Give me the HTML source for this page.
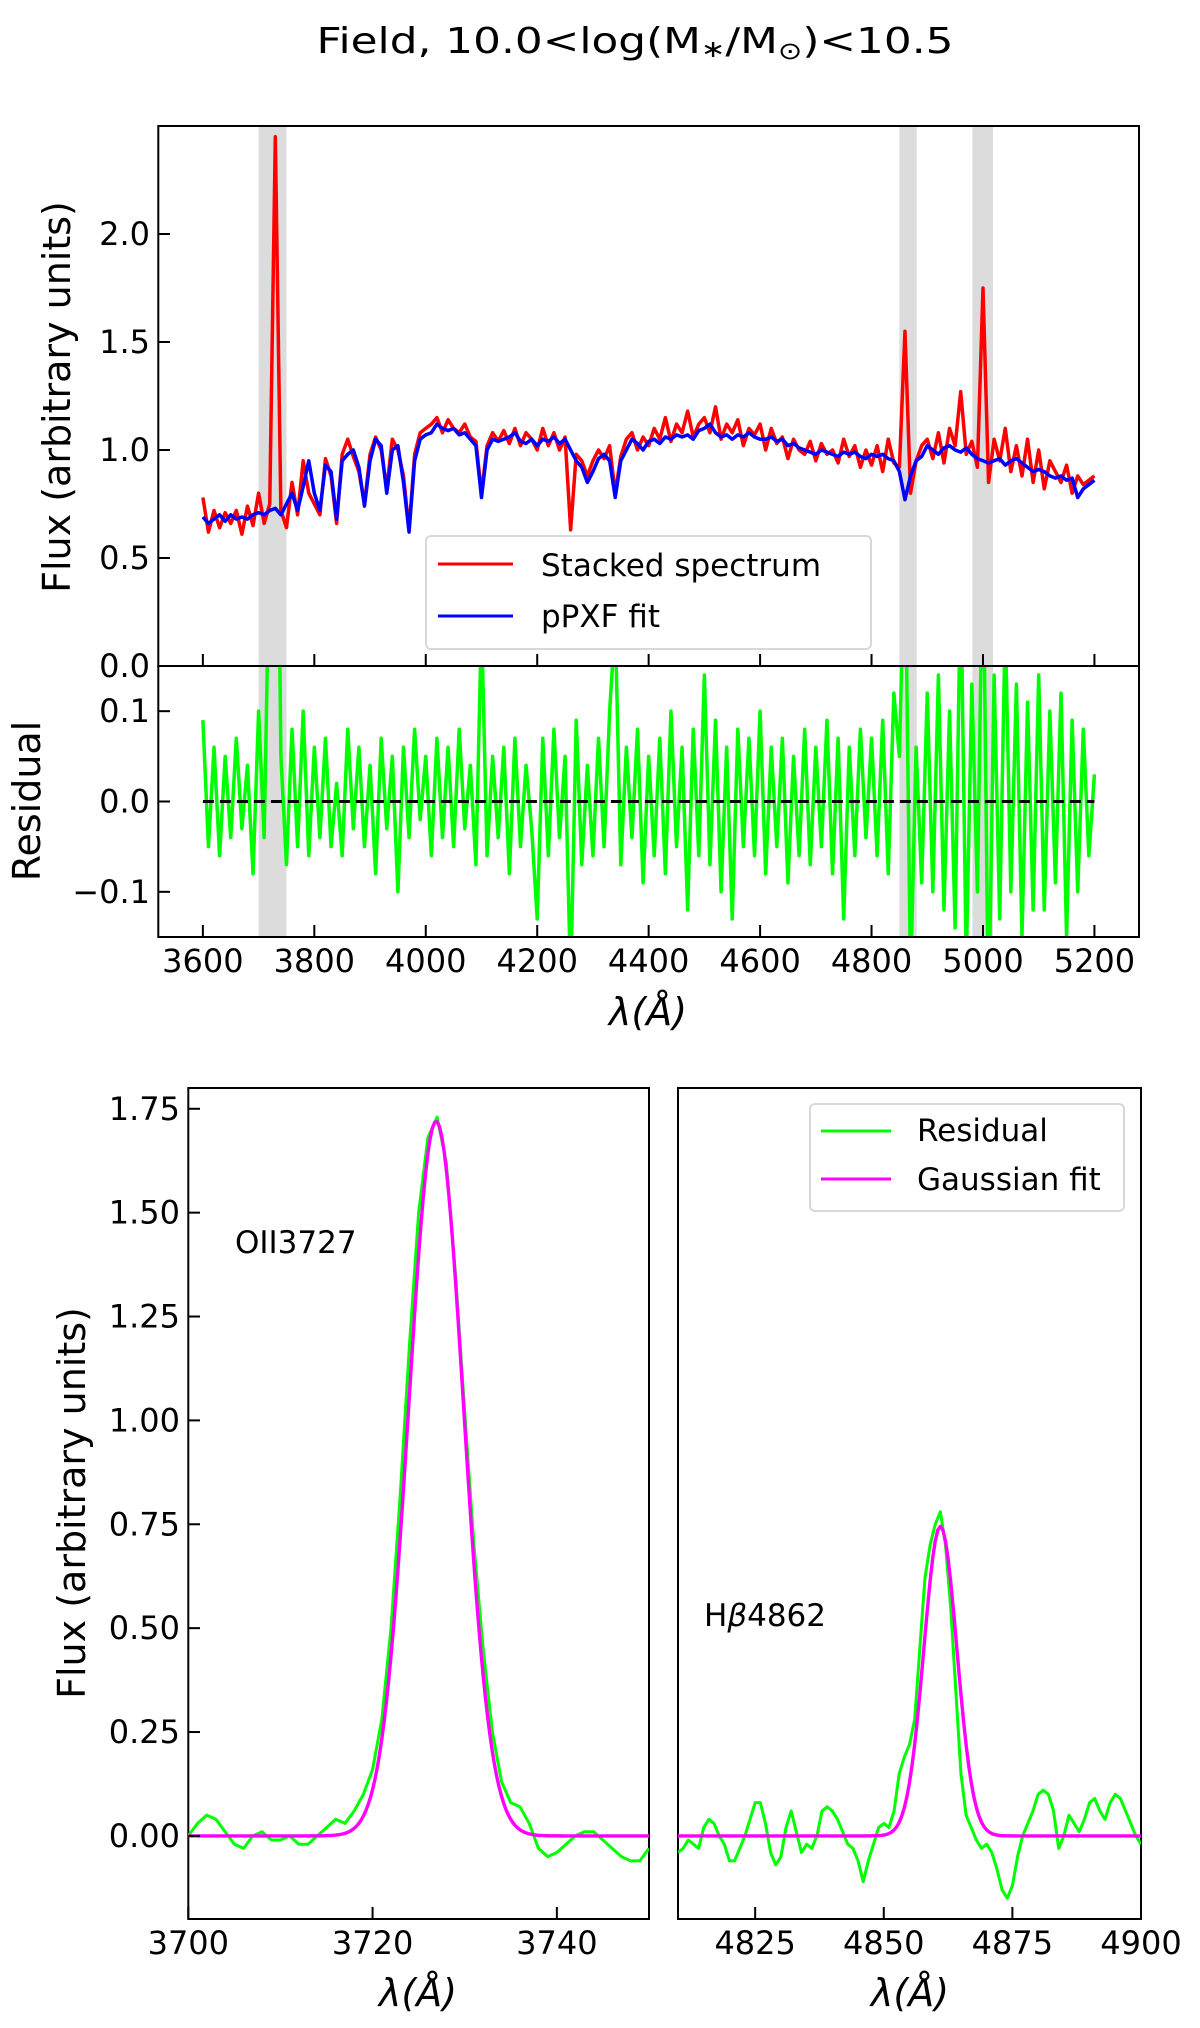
<!DOCTYPE html>
<html><head><meta charset="utf-8">
<style>
html,body{margin:0;padding:0;background:#fff;}
svg{display:block;font-family:"DejaVu Sans","Liberation Sans",sans-serif;}
</style></head>
<body>
<svg id="fig" width="1200" height="2028" viewBox="0 0 1200 2028" xmlns="http://www.w3.org/2000/svg">
<defs>
<clipPath id="clipTop"><rect x="158" y="126" width="981" height="540"/></clipPath>
<clipPath id="clipRes"><rect x="158" y="666" width="981" height="271"/></clipPath>
<clipPath id="clipL"><rect x="188" y="1088" width="461" height="831"/></clipPath>
<clipPath id="clipR"><rect x="678" y="1088" width="463" height="831"/></clipPath>
</defs>
<text x="635" y="53" font-size="36" text-anchor="middle" textLength="637" lengthAdjust="spacingAndGlyphs">Field, 10.0&lt;log(M<tspan font-size="24" dy="4">∗</tspan><tspan dy="-4">/M</tspan><tspan font-size="24" dy="6">⊙</tspan><tspan dy="-6">)&lt;10.5</tspan></text>
</svg>
<script>
// ---- top panel data (wavelength grid 3600..5200 step 10 Å) ----
const specStart = 3600;
const specStep = 10;
const stackedFlux = [
.78,.62,.72,.64,.71,.66,.72,.61,.74,.65,
.80,.66,.75,2.45,.72,.64,.85,.70,.95,.80,
.75,.70,.96,.88,.66,.98,1.05,.97,.90,.75,
.98,1.06,1.00,.82,1.05,1.00,.88,.63,.98,1.08,
1.10,1.12,1.15,1.08,1.14,1.10,1.08,1.12,1.06,1.04,
.80,1.02,1.08,1.04,1.09,1.03,1.10,1.02,1.08,1.05,
1.00,1.10,1.02,1.08,1.00,1.06,.63,.98,.95,.88,
.95,1.00,.96,1.02,.80,.97,1.05,1.08,1.00,1.06,
1.02,1.10,1.05,1.15,1.04,1.12,1.08,1.18,1.06,1.12,
1.15,1.08,1.20,1.05,1.12,1.08,1.14,1.02,1.10,1.07,
1.12,1.00,1.10,1.03,1.06,.96,1.05,1.00,.98,1.04,
.95,1.03,.98,1.00,.94,1.05,.97,1.02,.92,1.00,
.93,1.02,.90,1.05,.94,.92,1.55,.80,.95,1.02,
1.05,.96,1.08,.94,1.10,1.02,1.27,.98,1.04,.92,
1.75,.85,1.05,.95,1.10,.90,1.02,.88,1.05,.85,
1.00,.82,.95,.90,.85,.93,.80,.88,.84,.86,
.88];
const ppxfFit = [
.69,.66,.68,.70,.67,.70,.68,.69,.68,.70,
.71,.70,.72,.73,.70,.75,.80,.72,.83,.95,
.80,.72,.93,.90,.68,.95,.98,1.00,.92,.74,
.95,1.05,1.02,.80,1.00,1.02,.85,.62,.95,1.05,
1.07,1.08,1.12,1.10,1.09,1.10,1.07,1.08,1.05,1.02,
.78,1.00,1.05,1.04,1.05,1.06,1.08,1.04,1.03,1.05,
1.02,1.05,1.04,1.06,1.03,1.05,1.00,.95,.92,.85,
.90,.96,.98,.95,.78,.95,1.00,1.05,1.03,1.00,
1.04,1.05,1.03,1.06,1.05,1.07,1.06,1.07,1.05,1.09,
1.10,1.12,1.08,1.06,1.07,1.05,1.07,1.06,1.08,1.06,
1.05,1.05,1.06,1.04,1.05,1.02,1.03,1.01,1.00,.99,
.98,1.00,.99,.98,.97,.99,.98,.99,.97,.96,
.98,.97,.98,.96,.95,.90,.77,.88,.95,.97,
1.02,1.00,.98,1.01,1.02,1.00,.99,1.01,.98,.96,
.95,.94,.95,.96,.93,.95,.96,.94,.92,.90,
.91,.90,.88,.87,.88,.86,.87,.78,.82,.84,
.86];
const residualFlux = [
.09,-.05,.06,-.06,.05,-.04,.07,-.03,.04,-.08,
.10,-.04,.30,.60,.05,-.07,.08,-.05,.10,-.06,
.06,-.04,.07,-.05,.02,-.06,.08,-.03,.06,-.05,
.04,-.08,.07,-.03,.05,-.10,.06,-.04,.08,-.02,
.05,-.06,.07,-.04,.06,-.05,.08,-.03,.04,-.07,
.20,-.06,.05,-.04,.06,-.08,.07,-.05,.04,-.03,
-.13,.07,-.06,.08,-.04,.05,-.20,.09,-.07,.04,
-.06,.07,-.05,.10,.20,-.07,.06,-.04,.08,-.09,
.05,-.06,.07,-.08,.10,-.05,.06,-.12,.08,-.06,
.14,-.07,.09,-.10,.06,-.13,.08,-.05,.07,-.06,
.10,-.08,.06,-.05,.07,-.09,.05,-.06,.08,-.07,
.06,-.05,.09,-.08,.07,-.13,.06,-.06,.08,-.04,
.07,-.06,.09,-.08,.12,.05,.30,-.20,.06,-.09,
.12,-.10,.14,-.12,.10,-.14,.25,-.18,.13,-.10,
.30,-.25,.14,-.13,.20,-.10,.13,-.15,.11,-.12,
.14,-.12,.10,-.09,.12,-.15,.09,-.10,.08,-.06,
.03];
const maskStart = [3700, 4850, 4981];
const maskEnd = [3750, 4881, 5018];
const topXTicks = [3600,3800,4000,4200,4400,4600,4800,5000,5200];
const topYTicks = [0.0,0.5,1.0,1.5,2.0];
const topYLabels = ["0.0","0.5","1.0","1.5","2.0"];
const resYTicks = [-0.1,0.0,0.1];
const resYLabels = ["−0.1","0.0","0.1"];

// ---- OII zoom panel (3700..3750 step 1 Å) ----
const oiiStart = 3700;
const oiiResidual = [0.0,.03,.05,.04,.01,-.02,-.03,.0,.01,-.01,-.01,.0,-.02,-.02,.0,.02,.04,.03,.06,.10,
.16,.28,.50,.82,1.18,1.50,1.68,1.73,1.62,1.35,1.02,.70,.45,.25,.13,.08,.07,.03,-.03,-.05,
-.04,-.02,0,.01,.01,-.01,-.03,-.05,-.06,-.06,-.03];
const oiiFitParams = [1.72, 3726.9, 2.95]; // amplitude, centre, sigma
const oiiXTicks = [3700,3720,3740];
const bottomYTicks = [0,0.25,0.5,0.75,1.0,1.25,1.5,1.75];
const bottomYLabels = ["0.00","0.25","0.50","0.75","1.00","1.25","1.50","1.75"];

// ---- Hbeta zoom panel (4810..4900 step 1 Å) ----
const hbStart = 4810;
const hbResidual = [-.04,-.03,-.01,-.02,-.03,.02,.04,.03,.0,-.02,
-.06,-.06,-.03,.0,.04,.08,.08,.03,-.04,-.07,
-.05,.02,.06,.01,-.04,-.02,-.03,.0,.06,.07,
.06,.04,.01,-.02,-.03,-.06,-.11,-.06,-.02,.02,
.03,.02,.06,.15,.19,.22,.28,.45,.62,.70,
.75,.78,.70,.55,.35,.15,.05,.02,-.01,-.03,
-.02,-.04,-.08,-.13,-.15,-.12,-.05,0,.03,.06,
.10,.11,.10,.06,-.03,0,.05,.03,.01,.04,
.08,.09,.06,.04,.08,.10,.09,.06,.03,.0,-.02];
const hbFitParams = [0.745, 4861.0, 3.2];
const hbXTicks = [4825,4850,4875,4900];

const NS = "http://www.w3.org/2000/svg";
const svg = document.getElementById('fig');
function mk(tag, attrs, parent){
  const e = document.createElementNS(NS, tag);
  for (const k in attrs) e.setAttribute(k, attrs[k]);
  (parent||svg).appendChild(e);
  return e;
}
function scale(d0,d1,r0,r1){ return v => r0 + (v-d0)/(d1-d0)*(r1-r0); }

const xTop = scale(3520,5280,158.3,1139);
const yTop = scale(0,2.5,666,126);
const yRes = scale(-0.15,0.15,937,666);
const xL = scale(3700,3750,188.3,649);
const xR = scale(4810,4900,678,1141);
const yB = scale(-0.2,1.8,1919,1088);

const TICKF = 32, LABF = 38, LEGF = 31;

function polyline(xs, ys, xf, yf, color, w, clip, name, dash){
  const pts = xs.map((x,i)=> xf(x).toFixed(2)+','+yf(ys[i]).toFixed(2)).join(' ');
  const p = mk('polyline',{points:pts,fill:'none',stroke:color,'stroke-width':w,'stroke-linejoin':'round','clip-path':'url(#'+clip+')'});
  if (dash) p.setAttribute('stroke-dasharray', dash);
  
  
  return p;
}
function txt(x,y,s,size,anchor,name,rot){
  const t = mk('text',{x:x,y:y,'font-size':size,'text-anchor':anchor||'middle','dominant-baseline':'central'});
  if (rot) t.setAttribute('transform','rotate(-90 '+x+' '+y+')');
  t.textContent = s;
  
  
  return t;
}

const specX = stackedFlux.map((_,i)=> specStart + i*specStep);

maskStart.forEach((s,i)=>{
  const r1 = mk('rect',{x:xTop(s),y:126,width:xTop(maskEnd[i])-xTop(s),height:540,fill:'#dcdcdc'});
  
  
  const r2 = mk('rect',{x:xTop(s),y:666,width:xTop(maskEnd[i])-xTop(s),height:271,fill:'#dcdcdc'});
  
  
});

polyline(specX, stackedFlux, xTop, yTop, '#ff0000', 3.5, 'clipTop', 'stacked-spectrum-line');
polyline(specX, ppxfFit, xTop, yTop, '#0000ff', 3.5, 'clipTop', 'ppxf-fit-line');
polyline(specX, residualFlux, xTop, yRes, '#00ff00', 3.5, 'clipRes', 'residual-line');
polyline([specX[0], specX[specX.length-1]], [0,0], xTop, yRes, '#000', 3, 'clipRes', 'zero-dashed-line', '11,6');

const lg = mk('rect',{x:426,y:536,width:445,height:113,rx:5,fill:'#fff','fill-opacity':0.8,stroke:'#d8d8d8','stroke-width':2});


const l1 = mk('line',{x1:438,x2:513,y1:564,y2:564,stroke:'#ff0000','stroke-width':3});


txt(541,566,'Stacked spectrum',LEGF,'start','legend-label-stacked');
const l2 = mk('line',{x1:438,x2:513,y1:616,y2:616,stroke:'#0000ff','stroke-width':3});


txt(541,617,'pPXF fit',LEGF,'start','legend-label-ppxf');

function frame(x0,y0,x1,y1,name){
  const r = mk('rect',{x:x0,y:y0,width:x1-x0,height:y1-y0,fill:'none',stroke:'#000','stroke-width':2});
  
  
}
frame(158.3,126,1139,666,'spectrum-axes-frame');
frame(158.3,666,1139,937,'residual-axes-frame');
frame(188.3,1088,649,1919,'oii-axes-frame');
frame(678,1088,1141,1919,'hbeta-axes-frame');

function tick(x1,y1,x2,y2,name){
  const l = mk('line',{x1:x1,y1:y1,x2:x2,y2:y2,stroke:'#000','stroke-width':2});
  
  
}
topXTicks.forEach(v=>{
  tick(xTop(v),937,xTop(v),925,'x-tick-'+v);
  tick(xTop(v),666,xTop(v),654,'x-tick-top-'+v);
  txt(xTop(v),961,String(v),TICKF,'middle','x-tick-label-'+v);
});
topYTicks.forEach((v,i)=>{
  tick(158.3,yTop(v),170,yTop(v),'y-tick-'+i);
  txt(150,yTop(v),topYLabels[i],TICKF,'end','y-tick-label-'+i);
});
resYTicks.forEach((v,i)=>{
  tick(158.3,yRes(v),170,yRes(v),'res-y-tick-'+i);
  txt(150,yRes(v),resYLabels[i],TICKF,'end','res-y-tick-label-'+i);
});
txt(648,1012,'λ(Å)',LABF,'middle','x-axis-title-top').setAttribute('font-style','italic');
txt(57,397,'Flux (arbitrary units)',LABF,'middle','y-axis-title-top',true);
txt(27,801,'Residual',LABF,'middle','y-axis-title-residual',true);

const oiiX = oiiResidual.map((_,i)=> oiiStart + i);
const oiiFineX = []; for (let x=3700; x<=3750; x+=0.25) oiiFineX.push(x);
const oiiFit = oiiFineX.map(x=> oiiFitParams[0]*Math.exp(-0.5*Math.pow((x-oiiFitParams[1])/oiiFitParams[2],2)));
polyline(oiiX, oiiResidual, xL, yB, '#00ff00', 3, 'clipL', 'oii-residual-line');
polyline(oiiFineX, oiiFit, xL, yB, '#ff00ff', 3.4, 'clipL', 'oii-gaussian-fit-line');
oiiXTicks.forEach(v=>{
  tick(xL(v),1919,xL(v),1907,'oii-x-tick-'+v);
  txt(xL(v),1943,String(v),TICKF,'middle','oii-x-tick-label-'+v);
});
bottomYTicks.forEach((v,i)=>{
  tick(188.3,yB(v),200,yB(v),'oii-y-tick-'+i);
  txt(180,yB(v),bottomYLabels[i],TICKF,'end','oii-y-tick-label-'+i);
});
txt(235,1243,'OII3727',31,'start','oii-line-label');
txt(418,1993,'λ(Å)',LABF,'middle','x-axis-title-oii').setAttribute('font-style','italic');
txt(72,1503,'Flux (arbitrary units)',LABF,'middle','y-axis-title-bottom',true);

const hbX = hbResidual.map((_,i)=> hbStart + i);
const hbFineX = []; for (let x=4810; x<=4900; x+=0.5) hbFineX.push(x);
const hbFit = hbFineX.map(x=> hbFitParams[0]*Math.exp(-0.5*Math.pow((x-hbFitParams[1])/hbFitParams[2],2)));
polyline(hbX, hbResidual, xR, yB, '#00ff00', 3, 'clipR', 'hbeta-residual-line');
polyline(hbFineX, hbFit, xR, yB, '#ff00ff', 3.4, 'clipR', 'hbeta-gaussian-fit-line');
hbXTicks.forEach(v=>{
  tick(xR(v),1919,xR(v),1907,'hbeta-x-tick-'+v);
  txt(xR(v),1943,String(v),TICKF,'middle','hbeta-x-tick-label-'+v);
});
const hbl = txt(704,1616,'',31,'start','hbeta-line-label');
hbl.innerHTML = 'H<tspan font-style="italic">β</tspan>4862';
txt(910,1993,'λ(Å)',LABF,'middle','x-axis-title-hbeta').setAttribute('font-style','italic');

const lg2 = mk('rect',{x:810,y:1104,width:314,height:107,rx:5,fill:'#fff','fill-opacity':0.8,stroke:'#d8d8d8','stroke-width':2});


const l3 = mk('line',{x1:821,x2:891,y1:1131,y2:1131,stroke:'#00ff00','stroke-width':3});


txt(917,1131,'Residual',LEGF,'start','legend-label-residual');
const l4 = mk('line',{x1:821,x2:891,y1:1179,y2:1179,stroke:'#ff00ff','stroke-width':3});


txt(917,1180,'Gaussian fit',LEGF,'start','legend-label-gaussian');
</script>
</body></html>
